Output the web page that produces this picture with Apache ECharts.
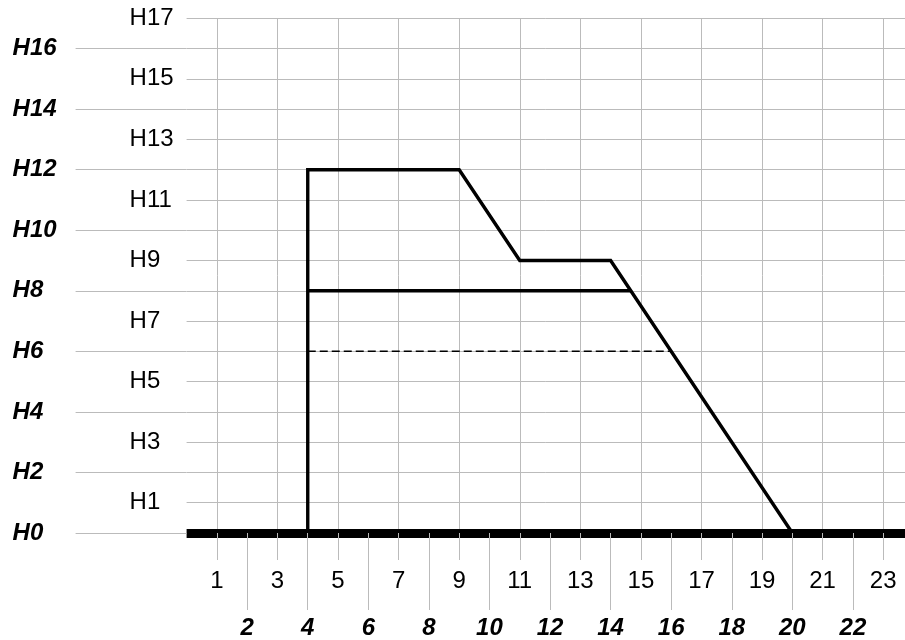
<!DOCTYPE html>
<html>
<head>
<meta charset="utf-8">
<script src="https://cdn.jsdelivr.net/npm/echarts@6/dist/echarts.min.js"></script>
<style>html,body{margin:0;padding:0;background:#fff}#c{width:905px;height:640px}</style>
</head>
<body>
<div id="c"></div>
<script>
// Profile outline (x, y)
const profileX = [4, 4, 9, 11, 14, 20];
const profileY = [0, 12, 12, 9, 9, 0];
// Solid horizontal line at H8
const levelX = [4, 14.67];
const levelY = [8, 8];
// Dashed horizontal line at H6
const dashX = [4, 16];
const dashY = [6, 6];
// Tick values
const xOddTicks = [1, 3, 5, 7, 9, 11, 13, 15, 17, 19, 21, 23];
const xEvenTicks = [2, 4, 6, 8, 10, 12, 14, 16, 18, 20, 22];
const yOddTicks = [1, 3, 5, 7, 9, 11, 13, 15, 17];
const yEvenTicks = [0, 2, 4, 6, 8, 10, 12, 14, 16];
const yLabelPrefix = 'H';
const xMax = 23.72;

const zip = (a, b) => a.map((v, i) => [v, b[i]]);
const FONT = "'Liberation Sans', Arial, sans-serif";
const GRID = '#bbbbbb';
const FS = 24;

const chart = echarts.init(document.getElementById('c'), null, {renderer: 'canvas'});
chart.setOption({
  animation: false,
  backgroundColor: '#fff',
  grid: {left: 186.6, top: 18.3, right: 0, height: 515, containLabel: false},
  xAxis: [
    {
      type: 'value', min: 0, max: xMax, interval: 1, position: 'bottom',
      splitLine: {show: true, lineStyle: {color: GRID, width: 1}},
      axisLine: {show: true, lineStyle: {color: '#000', width: 9, cap: 'butt'}},
      axisTick: {show: true, customValues: xOddTicks, length: 27, lineStyle: {color: GRID, width: 1}},
      axisLabel: {show: true, customValues: xOddTicks, margin: 36, fontSize: FS, color: '#000', fontFamily: FONT}
    },
    {
      type: 'value', min: 0, max: xMax, interval: 1, position: 'bottom',
      splitLine: {show: false},
      axisLine: {show: false},
      axisTick: {show: true, customValues: xEvenTicks, length: 77, lineStyle: {color: GRID, width: 1}},
      axisLabel: {show: true, customValues: xEvenTicks, margin: 83, fontSize: FS, fontWeight: 'bold', fontStyle: 'italic', color: '#000', fontFamily: FONT}
    }
  ],
  yAxis: [
    {
      type: 'value', min: 0, max: 17, interval: 1, position: 'left',
      splitLine: {show: true, lineStyle: {color: GRID, width: 1}},
      axisLine: {show: false},
      axisTick: {show: false},
      axisLabel: {show: true, customValues: yOddTicks, align: 'left', margin: 57,
        formatter: v => yLabelPrefix + v, fontSize: FS, color: '#000', fontFamily: FONT, padding: [4, 0, 0, 0]}
    },
    {
      type: 'value', min: 0, max: 17, interval: 1, position: 'left',
      splitLine: {show: false},
      axisLine: {show: false},
      axisTick: {show: true, customValues: yEvenTicks, length: 111, lineStyle: {color: GRID, width: 1}},
      axisLabel: {show: true, customValues: yEvenTicks, align: 'left', margin: 174,
        formatter: v => yLabelPrefix + v, fontSize: FS, fontWeight: 'bold', fontStyle: 'italic', color: '#000', fontFamily: FONT, padding: [4, 0, 0, 0]}
    }
  ],
  series: [
    {type: 'line', data: zip(profileX, profileY), symbol: 'none', z: 5,
      lineStyle: {color: '#000', width: 3.4, join: 'miter', cap: 'butt'}},
    {type: 'line', data: zip(levelX, levelY), symbol: 'none', z: 5,
      lineStyle: {color: '#000', width: 3.4}},
    {type: 'line', data: zip(dashX, dashY), symbol: 'none', z: 5,
      lineStyle: {color: '#000', width: 1.5, type: [8, 4]}}
  ]
});
</script>
</body>
</html>
